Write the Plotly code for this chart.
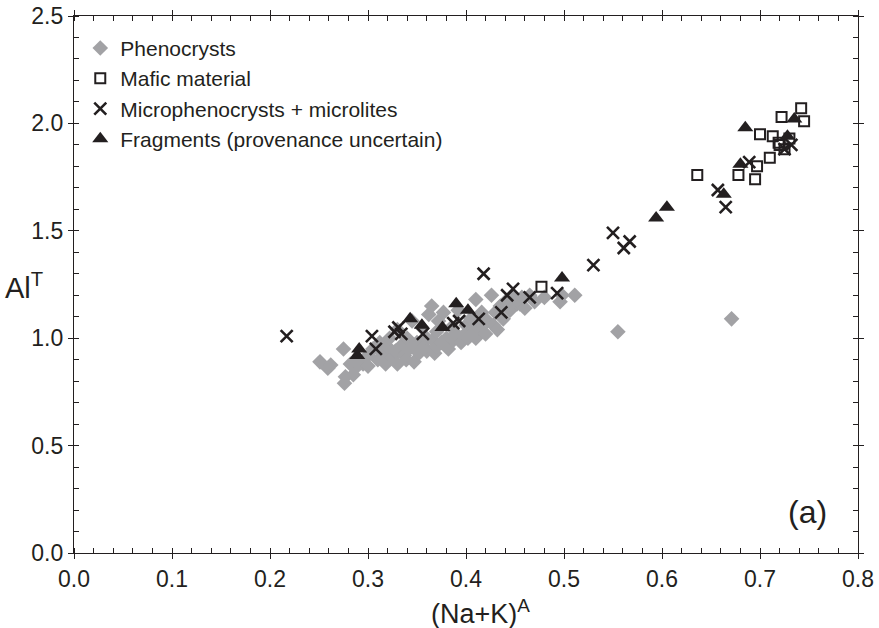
import plotly.graph_objects as go

# Phenocrysts (grey diamonds)
pheno_x = [0.251, 0.259, 0.262, 0.275, 0.277, 0.276, 0.287, 0.282, 0.290, 0.285,
           0.295, 0.300, 0.300, 0.305, 0.310, 0.312, 0.315, 0.318, 0.320, 0.322,
           0.325, 0.328, 0.330, 0.330, 0.335, 0.337, 0.339, 0.340, 0.342, 0.345,
           0.347, 0.350, 0.352, 0.355, 0.357, 0.360, 0.360, 0.362, 0.365, 0.366,
           0.368, 0.370, 0.370, 0.372, 0.375, 0.377, 0.380, 0.382, 0.385, 0.387,
           0.390, 0.392, 0.395, 0.397, 0.400, 0.402, 0.405, 0.408, 0.410, 0.410,
           0.413, 0.416, 0.420, 0.422, 0.426, 0.428, 0.430, 0.432, 0.435, 0.438,
           0.440, 0.445, 0.448, 0.452, 0.455, 0.457, 0.460, 0.465, 0.470, 0.480,
           0.496, 0.498, 0.511, 0.555, 0.671]
pheno_y = [0.89, 0.86, 0.875, 0.95, 0.82, 0.79, 0.86, 0.88, 0.90, 0.83,
           0.88, 0.92, 0.87, 0.95, 0.90, 0.98, 0.93, 0.88, 0.96, 1.00,
           0.91, 0.94, 0.88, 1.04, 0.97, 0.92, 0.90, 1.00, 0.95, 1.08,
           0.89, 0.98, 0.93, 1.05, 0.96, 0.94, 1.00, 1.11, 1.15, 0.99,
           0.93, 1.03, 0.96, 1.08, 0.98, 1.12, 1.00, 0.95, 1.05, 0.99,
           1.02, 1.13, 0.98, 1.01, 1.06, 1.00, 1.09, 1.03, 1.18, 1.00,
           1.05, 1.12, 1.02, 1.08, 1.20, 1.06, 1.12, 1.04, 1.15, 1.09,
           1.17, 1.13, 1.20, 1.16, 1.16, 1.19, 1.14, 1.20, 1.17, 1.19,
           1.17, 1.20, 1.20, 1.03, 1.09]

# Mafic material (open squares)
mafic_x = [0.477, 0.636, 0.678, 0.695, 0.697, 0.700, 0.710, 0.713, 0.719, 0.722,
           0.725, 0.730, 0.742, 0.745, 0.720]
mafic_y = [1.24, 1.76, 1.76, 1.74, 1.80, 1.95, 1.84, 1.94, 1.91, 2.03,
           1.88, 1.93, 2.07, 2.01, 1.90]

# Microphenocrysts + microlites (crosses)
micro_x = [0.217, 0.304, 0.308, 0.327, 0.331, 0.334, 0.356, 0.387, 0.393, 0.413,
           0.418, 0.436, 0.442, 0.448, 0.465, 0.493, 0.530, 0.550, 0.561, 0.567,
           0.657, 0.665, 0.689, 0.725, 0.732]
micro_y = [1.01, 1.01, 0.95, 1.03, 1.05, 1.02, 1.02, 1.07, 1.08, 1.09,
           1.30, 1.12, 1.20, 1.23, 1.19, 1.21, 1.34, 1.49, 1.42, 1.45,
           1.69, 1.61, 1.82, 1.88, 1.90]

# Fragments (provenance uncertain) (filled triangles)
frag_x = [0.289, 0.291, 0.343, 0.355, 0.376, 0.390, 0.402, 0.498, 0.594, 0.605,
          0.663, 0.680, 0.685, 0.728, 0.735]
frag_y = [0.92, 0.95, 1.09, 1.06, 1.05, 1.16, 1.13, 1.28, 1.56, 1.61,
          1.67, 1.81, 1.98, 1.94, 2.02]

ink = "#231f20"
font_family = "Liberation Sans, Arial, sans-serif"

fig = go.Figure()
fig.add_trace(go.Scatter(x=pheno_x, y=pheno_y, mode="markers", name="Phenocrysts",
                         legendgroup="a",
                         marker=dict(symbol="diamond", size=12, color="#a2a2a5", line=dict(width=0))))
fig.add_trace(go.Scatter(x=mafic_x, y=mafic_y, mode="markers", name="Mafic material",
                         legendgroup="b",
                         marker=dict(symbol="square-open", size=10, color=ink, line=dict(width=2, color=ink))))
fig.add_trace(go.Scatter(x=micro_x, y=micro_y, mode="markers", name="Microphenocrysts + microlites",
                         legendgroup="c",
                         marker=dict(symbol="x-thin", size=12, color=ink, line=dict(width=2.6, color=ink))))
fig.add_trace(go.Scatter(x=frag_x, y=frag_y, mode="markers", name="Fragments (provenance uncertain)",
                         legendgroup="d",
                         marker=dict(symbol="triangle-up", size=14, color=ink, line=dict(width=0))))
# invisible trace on overlay axes (for crossing major ticks)
fig.add_trace(go.Scatter(x=[None], y=[None], xaxis="x2", yaxis="y2", showlegend=False, hoverinfo="skip"))

axis_common = dict(showline=True, linecolor=ink, linewidth=1.3, mirror="ticks", automargin=False,
                   showgrid=False, zeroline=False, tickcolor=ink, tickwidth=1.3)

fig.update_layout(
    width=879, height=628,
    margin=dict(l=74, r=21, t=16, b=75),
    plot_bgcolor="white", paper_bgcolor="white",
    font=dict(family=font_family, color=ink, size=23),
    xaxis=dict(range=[0, 0.8], dtick=0.1, tick0=0, tickformat=".1f", ticks="outside", ticklen=5,
               minor=dict(dtick=0.02, ticks="inside", ticklen=5, tickcolor=ink, tickwidth=1.2),
               tickfont=dict(size=23), **axis_common),
    yaxis=dict(range=[0, 2.5], dtick=0.5, tick0=0, tickformat=".1f", ticks="outside", ticklen=5,
               minor=dict(dtick=0.1, ticks="inside", ticklen=5, tickcolor=ink, tickwidth=1.2),
               tickfont=dict(size=23), **axis_common),
    xaxis2=dict(overlaying="x", matches="x", anchor="y2", range=[0, 0.8], dtick=0.1, tick0=0,
                ticks="inside", ticklen=5, showticklabels=False, showline=False, mirror="ticks",
                automargin=False, showgrid=False, zeroline=False, tickcolor=ink, tickwidth=1.3),
    yaxis2=dict(overlaying="y", matches="y", anchor="x2", range=[0, 2.5], dtick=0.5, tick0=0,
                ticks="inside", ticklen=5, showticklabels=False, showline=False, mirror="ticks",
                automargin=False, showgrid=False, zeroline=False, tickcolor=ink, tickwidth=1.3),
    legend=dict(x=0.008, y=0.978, xanchor="left", yanchor="top", bgcolor="rgba(0,0,0,0)",
                font=dict(size=21, color=ink), tracegroupgap=0, itemwidth=30),
    showlegend=True,
    annotations=[
        dict(text="(Na+K)<sup>A</sup>", xref="paper", yref="paper", x=0.518, y=0, yshift=-59,
             xanchor="center", yanchor="middle", showarrow=False, font=dict(size=27, color=ink)),
        dict(text="Al<sup>T</sup>", xref="paper", yref="paper", x=0, xshift=-29, y=0.497,
             xanchor="right", yanchor="middle", showarrow=False, font=dict(size=29, color=ink)),
        dict(text="(a)", xref="x", yref="y", x=0.748, y=0.19,
             xanchor="center", yanchor="middle", showarrow=False, font=dict(size=32, color=ink)),
    ],
)

fig.write_html("out.html")
